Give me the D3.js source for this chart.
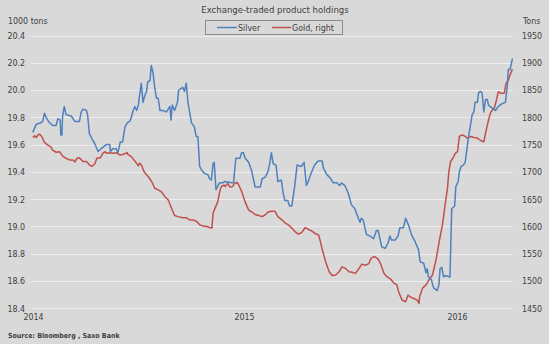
<!DOCTYPE html>
<html>
<head>
<meta charset="utf-8">
<script src="https://cdn.jsdelivr.net/npm/d3@7"></script>
<style>
  html, body { margin: 0; padding: 0; background: #d9d9d9; }
  svg { display: block; }
  text { font-family: "DejaVu Sans Condensed", "DejaVu Sans", Verdana, sans-serif; fill: #404040; }
</style>
</head>
<body>
<svg id="chart" width="549" height="344"></svg>
<script>
// ---------- DATA ----------
const title = "Exchange-traded product holdings";
const leftUnit = "1000 tons";
const rightUnit = "Tons";
const sourceText = "Source: Bloomberg , Saxo Bank";
const seriesNames = ["Silver", "Gold, right"];

const leftTicks = [18.4, 18.6, 18.8, 19.0, 19.2, 19.4, 19.6, 19.8, 20.0, 20.2, 20.4];
const rightTicks = [1450, 1500, 1550, 1600, 1650, 1700, 1750, 1800, 1850, 1900, 1950];
const xTickDates = ["2014-01-01", "2015-01-01", "2016-01-01"];
const xTickLabels = ["2014", "2015", "2016"];

const silverDates = [
"2014-01-04","2014-01-10","2014-01-18","2014-01-21","2014-01-24","2014-01-27","2014-01-31","2014-02-07","2014-02-13","2014-02-16",
"2014-02-20","2014-02-21","2014-02-23","2014-02-24","2014-02-27","2014-03-02","2014-03-11","2014-03-17","2014-03-25","2014-03-28",
"2014-03-31","2014-04-06","2014-04-08","2014-04-11","2014-04-17","2014-04-20","2014-04-26","2014-05-01","2014-05-10","2014-05-16",
"2014-05-17","2014-05-21","2014-05-27","2014-05-30","2014-06-03","2014-06-07","2014-06-11","2014-06-15","2014-06-19","2014-06-22",
"2014-06-25","2014-06-28","2014-07-01","2014-07-04","2014-07-06","2014-07-09","2014-07-12","2014-07-15","2014-07-18","2014-07-20",
"2014-07-24","2014-07-26","2014-07-29","2014-08-01","2014-08-04","2014-08-07","2014-08-10","2014-08-15","2014-08-21","2014-08-27",
"2014-08-29","2014-08-31","2014-09-04","2014-09-09","2014-09-11","2014-09-15","2014-09-18","2014-09-21","2014-09-24","2014-09-27",
"2014-10-03","2014-10-08","2014-10-11","2014-10-14","2014-10-17","2014-10-21","2014-10-25","2014-10-31","2014-11-03","2014-11-06",
"2014-11-09","2014-11-11","2014-11-14","2014-11-20","2014-11-26","2014-11-29","2014-12-11","2014-12-14","2014-12-18","2014-12-25",
"2014-12-28","2014-12-31","2015-01-03","2015-01-09","2015-01-14","2015-01-17","2015-01-20","2015-01-29","2015-02-01","2015-02-06",
"2015-02-11","2015-02-14","2015-02-17","2015-02-20","2015-02-25","2015-02-28","2015-03-06","2015-03-09","2015-03-12","2015-03-17",
"2015-03-20","2015-03-24","2015-03-29","2015-04-02","2015-04-09","2015-04-14","2015-04-18","2015-04-22","2015-04-26","2015-05-02",
"2015-05-08","2015-05-15","2015-05-17","2015-05-23","2015-05-28","2015-06-03","2015-06-09","2015-06-14","2015-06-17","2015-06-23",
"2015-06-29","2015-07-04","2015-07-10","2015-07-16","2015-07-19","2015-07-21","2015-07-24","2015-07-30","2015-08-05","2015-08-11",
"2015-08-16","2015-08-19","2015-08-25","2015-08-31","2015-09-05","2015-09-08","2015-09-11","2015-09-17","2015-09-22","2015-09-25",
"2015-10-01","2015-10-05","2015-10-10","2015-10-15","2015-10-21","2015-10-27","2015-10-30","2015-11-05","2015-11-09","2015-11-11",
"2015-11-13","2015-11-18","2015-11-22","2015-11-28","2015-12-01","2015-12-03","2015-12-06","2015-12-09","2015-12-12","2015-12-20",
"2015-12-23","2015-12-28","2015-12-30","2016-01-03","2016-01-05","2016-01-08","2016-01-12","2016-01-15","2016-01-21","2016-01-27",
"2016-01-30","2016-02-01","2016-02-05","2016-02-07","2016-02-10","2016-02-13","2016-02-16","2016-02-19","2016-02-22","2016-02-24",
"2016-03-01","2016-03-07","2016-03-12","2016-03-18","2016-03-24","2016-03-27","2016-03-29","2016-04-01","2016-04-05"
];
const silverValues = [
19.69,19.75,19.76,19.77,19.83,19.80,19.77,19.74,19.74,19.79,
19.78,19.67,19.67,19.80,19.88,19.82,19.81,19.77,19.77,19.84,
19.86,19.85,19.82,19.68,19.63,19.61,19.55,19.57,19.60,19.60,
19.55,19.57,19.57,19.54,19.62,19.62,19.73,19.76,19.77,19.80,
19.85,19.88,19.85,19.89,19.96,20.05,19.91,19.96,19.99,20.06,
20.07,20.18,20.13,20.02,19.94,19.94,19.85,19.85,19.84,19.88,
19.78,19.89,19.85,19.91,20.00,20.01,20.02,19.99,20.05,19.91,
19.76,19.73,19.66,19.66,19.44,19.41,19.39,19.38,19.35,19.34,
19.46,19.47,19.27,19.32,19.32,19.33,19.32,19.32,19.50,19.50,
19.54,19.54,19.50,19.47,19.41,19.35,19.29,19.29,19.35,19.36,
19.40,19.46,19.54,19.46,19.45,19.33,19.34,19.25,19.19,19.19,
19.15,19.15,19.30,19.45,19.44,19.47,19.30,19.34,19.39,19.45,
19.48,19.48,19.43,19.38,19.36,19.32,19.32,19.30,19.32,19.30,
19.24,19.16,19.13,19.06,19.03,19.06,19.05,18.94,18.93,18.91,
18.97,18.97,18.85,18.84,18.88,18.93,18.90,18.90,18.93,18.99,
18.99,19.06,19.01,18.94,18.89,18.83,18.74,18.73,18.66,18.69,
18.63,18.61,18.55,18.53,18.57,18.69,18.70,18.63,18.64,18.63,
19.13,19.15,19.29,19.33,19.40,19.44,19.45,19.47,19.66,19.82,
19.84,19.91,19.91,19.98,19.99,19.98,19.84,19.93,19.93,19.89,
19.87,19.85,19.88,19.90,19.91,20.02,20.15,20.15,20.23
];

const goldDates = [
"2014-01-04","2014-01-07","2014-01-10","2014-01-13","2014-01-16","2014-01-20","2014-01-24","2014-01-30","2014-02-04","2014-02-07",
"2014-02-13","2014-02-19","2014-02-25","2014-03-02","2014-03-08","2014-03-14","2014-03-17","2014-03-21","2014-03-25","2014-03-31",
"2014-04-06","2014-04-11","2014-04-15","2014-04-20","2014-04-24","2014-04-30","2014-05-04","2014-05-08","2014-05-11","2014-05-16",
"2014-05-21","2014-05-27","2014-06-02","2014-06-07","2014-06-15","2014-06-16","2014-06-22","2014-06-28","2014-07-04","2014-07-06",
"2014-07-09","2014-07-14","2014-07-21","2014-07-27","2014-08-01","2014-08-07","2014-08-13","2014-08-18","2014-08-24","2014-08-30",
"2014-09-04","2014-09-10","2014-09-18","2014-09-24","2014-09-30","2014-10-06","2014-10-12","2014-10-17","2014-10-23","2014-10-29",
"2014-11-03","2014-11-07","2014-11-09","2014-11-11","2014-11-17","2014-11-21","2014-11-23","2014-11-28","2014-11-30","2014-12-04",
"2014-12-08","2014-12-12","2014-12-16","2014-12-20","2014-12-23","2014-12-28","2015-01-03","2015-01-09","2015-01-14","2015-01-20",
"2015-01-26","2015-02-01","2015-02-06","2015-02-12","2015-02-18","2015-02-23","2015-02-28","2015-03-07","2015-03-13","2015-03-18",
"2015-03-24","2015-03-30","2015-04-04","2015-04-10","2015-04-16","2015-04-22","2015-04-27","2015-05-03","2015-05-09","2015-05-12",
"2015-05-16","2015-05-21","2015-05-27","2015-06-01","2015-06-07","2015-06-13","2015-06-18","2015-06-24","2015-06-30","2015-07-05",
"2015-07-11","2015-07-17","2015-07-22","2015-07-28","2015-08-03","2015-08-07","2015-08-13","2015-08-19","2015-08-23","2015-08-29",
"2015-09-03","2015-09-09","2015-09-15","2015-09-20","2015-09-23","2015-09-29","2015-10-05","2015-10-09","2015-10-13","2015-10-19",
"2015-10-25","2015-10-28","2015-10-29","2015-11-03","2015-11-09","2015-11-14","2015-11-20","2015-11-26","2015-12-01","2015-12-07",
"2015-12-12","2015-12-16","2015-12-18","2015-12-21","2015-12-25","2015-12-29","2016-01-02","2016-01-05","2016-01-10","2016-01-15",
"2016-01-19","2016-01-25","2016-01-30","2016-02-05","2016-02-10","2016-02-16","2016-02-19","2016-02-24","2016-02-28","2016-03-05",
"2016-03-08","2016-03-12","2016-03-16","2016-03-22","2016-03-25","2016-03-29","2016-04-02","2016-04-05"
];
const goldValues = [
1763,1766,1763,1768,1769,1764,1754,1749,1746,1740,
1736,1737,1728,1725,1722,1722,1718,1725,1726,1719,
1719,1713,1710,1714,1725,1726,1734,1737,1734,1735,
1734,1735,1731,1732,1735,1732,1728,1720,1711,1716,
1713,1700,1691,1682,1670,1667,1663,1655,1649,1633,
1620,1618,1616,1616,1612,1612,1609,1603,1601,1600,
1598,1597,1624,1630,1645,1667,1673,1676,1673,1679,
1672,1673,1679,1681,1676,1664,1645,1630,1627,1622,
1620,1618,1621,1627,1628,1628,1618,1612,1606,1603,
1597,1590,1586,1589,1598,1594,1592,1587,1584,1572,
1554,1535,1517,1510,1511,1517,1526,1523,1517,1516,
1514,1523,1531,1529,1532,1542,1545,1540,1532,1514,
1508,1504,1496,1493,1480,1465,1462,1474,1471,1468,
1465,1459,1471,1487,1493,1502,1511,1538,1569,1603,
1642,1673,1700,1719,1725,1734,1737,1765,1768,1765,
1762,1765,1763,1762,1758,1755,1771,1795,1810,1817,
1829,1847,1844,1844,1862,1868,1881,1888
];

// ---------- CHART ----------
const parse = d3.timeParse("%Y-%m-%d");
const svg = d3.select("#chart");
const W = 549, H = 344;
const plot = { left: 31, right: 513, top: 35.5, bottom: 308.3 };
const FONT = "'DejaVu Sans Condensed', 'DejaVu Sans', sans-serif";

const x = d3.scaleTime()
  .domain([parse("2014-01-01"), parse("2016-04-06")])
  .range([plot.left, plot.right]);
const yL = d3.scaleLinear().domain([18.4, 20.4]).range([plot.bottom, plot.top]);
const yR = d3.scaleLinear().domain([1450, 1950]).range([plot.bottom, plot.top]);

svg.append("rect").attr("width", W).attr("height", H).attr("fill", "#d9d9d9");

// gridlines
svg.append("g").selectAll("line").data(leftTicks).join("line")
  .attr("x1", plot.left).attr("x2", plot.right)
  .attr("y1", d => Math.round(yL(d)) + 0.5).attr("y2", d => Math.round(yL(d)) + 0.5)
  .attr("stroke", "#eeeeee").attr("stroke-width", 1);

function styleAxis(g) {
  g.select(".domain").remove();
  g.selectAll("text").attr("font-size", 8.8).attr("fill", "#404040").attr("font-family", FONT);
}

// left axis labels
const axL = d3.axisLeft(yL).tickValues(leftTicks).tickFormat(d3.format(".1f")).tickSize(0).tickPadding(0);
svg.append("g").attr("transform", `translate(25,0)`).call(axL).call(styleAxis);

// right axis labels
const axR = d3.axisRight(yR).tickValues(rightTicks).tickFormat(d3.format("d")).tickSize(0).tickPadding(0);
svg.append("g").attr("transform", `translate(522,0)`).call(axR).call(styleAxis);

// x axis labels
const axX = d3.axisBottom(x).tickValues(xTickDates.map(parse))
  .tickFormat((d, i) => xTickLabels[i]).tickSize(0).tickPadding(0);
const gX = svg.append("g").attr("transform", `translate(0,314)`).call(axX).call(styleAxis);
gX.selectAll(".tick").filter((d, i) => i === 0).select("text").attr("text-anchor", "start").attr("dx", -8);

// lines
const silver = silverDates.map((d, i) => ({ date: parse(d), v: silverValues[i] }));
const gold = goldDates.map((d, i) => ({ date: parse(d), v: goldValues[i] }));

svg.append("path").datum(gold)
  .attr("fill", "none").attr("stroke", "#c0504d").attr("stroke-width", 1.5).attr("stroke-linejoin", "round")
  .attr("d", d3.line().x(d => x(d.date)).y(d => yR(d.v)));
svg.append("path").datum(silver)
  .attr("fill", "none").attr("stroke", "#4f81bd").attr("stroke-width", 1.5).attr("stroke-linejoin", "round")
  .attr("d", d3.line().x(d => x(d.date)).y(d => yL(d.v)));

// title & units
svg.append("text").attr("x", 275).attr("y", 13).attr("text-anchor", "middle")
  .attr("font-size", 9.5).text(title);
svg.append("text").attr("x", 8).attr("y", 24).attr("font-size", 8.8).text(leftUnit);
svg.append("text").attr("x", 523).attr("y", 24).attr("font-size", 8.8).text(rightUnit);

// legend
const lg = svg.append("g");
lg.append("rect").attr("x", 205.5).attr("y", 20.5).attr("width", 137).attr("height", 14)
  .attr("fill", "#d9d9d9").attr("stroke", "#8c8c8c").attr("stroke-width", 1);
const legendItems = [
  { name: seriesNames[0], color: "#4f81bd", x0: 217, x1: 237, tx: 238 },
  { name: seriesNames[1], color: "#c0504d", x0: 272, x1: 291, tx: 292 }
];
legendItems.forEach(it => {
  lg.append("line").attr("x1", it.x0).attr("x2", it.x1).attr("y1", 27.5).attr("y2", 27.5)
    .attr("stroke", it.color).attr("stroke-width", 1.5);
  lg.append("text").attr("x", it.tx).attr("y", 31).attr("font-size", 8.8).text(it.name);
});

// source
svg.append("text").attr("x", 8).attr("y", 338).attr("font-size", 7).attr("font-weight", "bold")
  .attr("fill", "#404040").text(sourceText);
</script>
</body>
</html>
